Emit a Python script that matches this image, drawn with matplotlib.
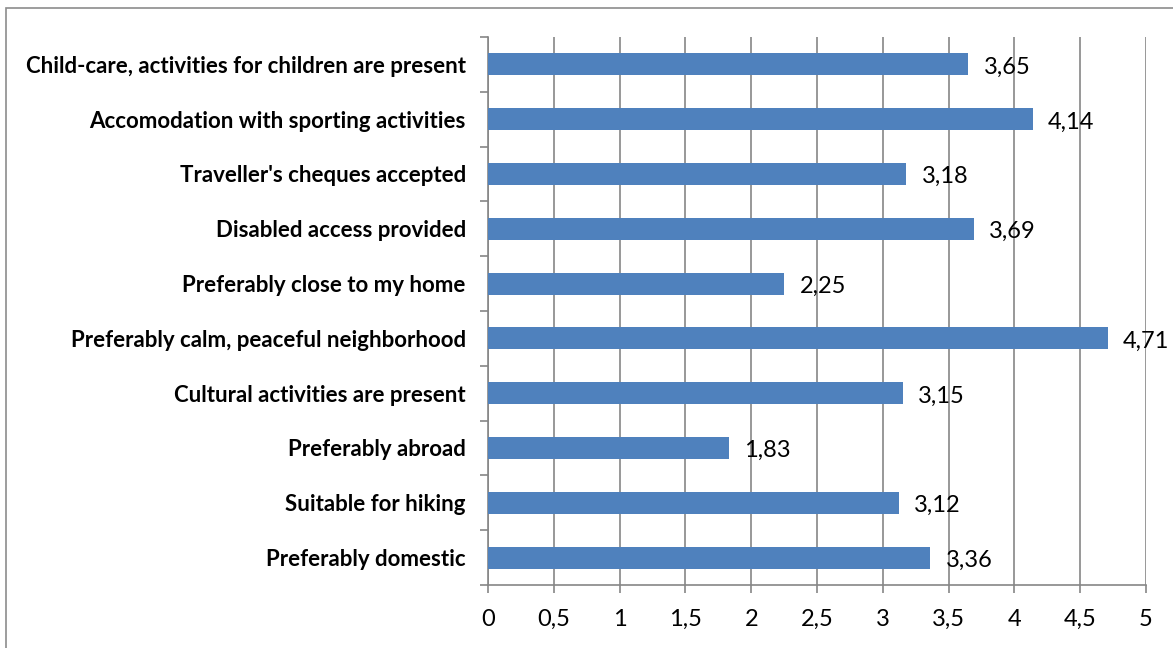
import matplotlib.pyplot as plt
from matplotlib.patches import Rectangle
from matplotlib.ticker import FuncFormatter

categories = [
    "Preferably domestic",
    "Suitable for hiking",
    "Preferably abroad",
    "Cultural activities are present",
    "Preferably calm, peaceful neighborhood",
    "Preferably close to my home",
    "Disabled access provided",
    "Traveller's cheques accepted",
    "Accomodation with sporting activities",
    "Child-care, activities for children are present",
]
scores = [3.36, 3.12, 1.83, 3.15, 4.71, 2.25, 3.69, 3.18, 4.14, 3.65]
x_ticks = [0, 0.5, 1, 1.5, 2, 2.5, 3, 3.5, 4, 4.5, 5]

plt.rcParams['font.family'] = ['Lato', 'DejaVu Sans']

fig = plt.figure(figsize=(11.73, 6.48), dpi=100)
ax = fig.add_axes([488 / 1173, 1 - 585 / 648, (1146 - 488) / 1173, (585 - 37) / 648])

# outer frame of the chart area
fig.patches.append(Rectangle((6 / 1173, -0.1), 1.2, 1 - 8 / 648 + 0.1,
                             transform=fig.transFigure, fill=False,
                             edgecolor='#8c8c8c', linewidth=1.2))

pos = list(range(len(categories)))
ax.barh(pos, scores, height=0.4, color='#4f81bd', zorder=3)

for y, v in zip(pos, scores):
    ax.annotate(f"{v:.2f}".replace('.', ','), (v, y), xytext=(11, -2),
                textcoords='offset points', va='center', ha='left',
                fontsize=17, color='#000000')

ax.set_xlim(0, 5)
ax.set_ylim(-0.5, len(categories) - 0.5)
ax.set_xticks(x_ticks)
ax.xaxis.set_major_formatter(FuncFormatter(lambda v, _: f"{v:g}".replace('.', ',')))
ax.set_yticks(pos)
ax.set_yticklabels(categories, fontsize=16, fontweight='bold')
ax.set_yticks([p - 0.5 for p in pos] + [len(categories) - 0.5], minor=True)

ax.grid(axis='x', color='#868686', linewidth=1.2, zorder=0)
for s in ['top', 'right']:
    ax.spines[s].set_visible(False)
for s in ['left', 'bottom']:
    ax.spines[s].set_color('#868686')
    ax.spines[s].set_linewidth(1.2)

ax.tick_params(axis='y', which='major', length=0, pad=16)
ax.tick_params(axis='y', which='minor', length=6, color='#868686', width=1.2)
ax.tick_params(axis='x', length=6, color='#868686', width=1.2, labelsize=17, pad=11)

fig.savefig('out.png', dpi=100)
